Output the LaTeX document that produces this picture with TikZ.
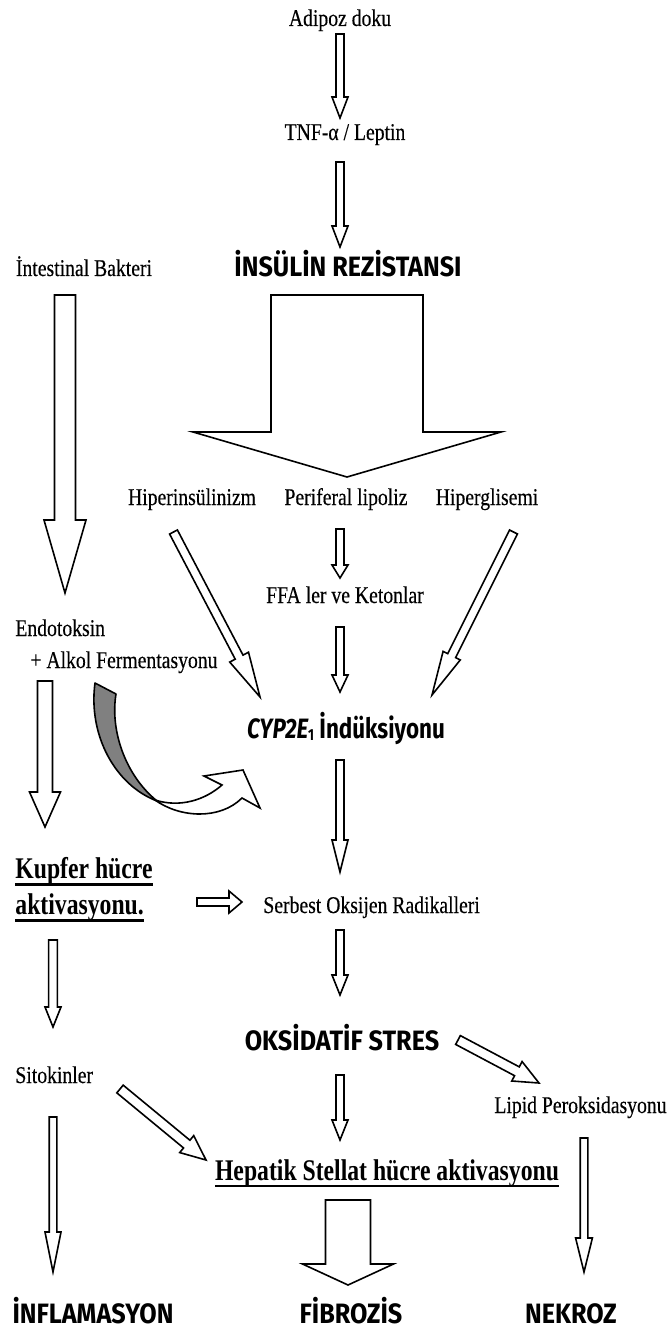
\documentclass[tikz,border=0pt]{standalone}
\usepackage{fontspec}
\usetikzlibrary{calc}
\newfontfamily\labelfont{Liberation Serif}[FakeStretch=0.82, FakeBold=0.3]
\newfontfamily\cellfont{Liberation Serif}[FakeStretch=0.79]
\newfontfamily\headfont{Fira Sans}[FakeStretch=0.9]
\newfontfamily\cypfont{Fira Sans}[FakeStretch=0.8]
\definecolor{ribbongray}{HTML}{808080}

% thick underline for the cell labels
\newcommand{\thickul}[1]{\setbox0\hbox{#1}\rlap{\copy0}\rule[-3.6pt]{\wd0}{1.2pt}}

% hollow block arrow: tail, tip, shaft half width, head half width, head length
\newcommand{\hollowarrow}[5]{%
  \coordinate (hb) at ($(#2)!#5!(#1)$);
  \draw[blockarrow] ($(#1)!#3!90:(#2)$) -- ($(hb)!#3!-90:(#1)$) -- ($(hb)!#4!-90:(#1)$) -- (#2)
    -- ($(hb)!#4!90:(#1)$) -- ($(hb)!#3!90:(#1)$) -- ($(#1)!#3!-90:(#2)$) -- cycle;}

\tikzset{
  blockarrow/.style={draw=black, fill=white, line width=0.8pt, line join=miter},
  txt/.style={inner sep=0pt, font=\labelfont\fontsize{12}{14}\selectfont},
  hdtxt/.style={inner sep=0pt, font=\headfont\bfseries\fontsize{14}{16}\selectfont},
  celltxt/.style={inner sep=0pt, align=left, font=\cellfont\bfseries\fontsize{15}{18}\selectfont}
}

\begin{document}
\begin{tikzpicture}[x=0.5pt, y=-0.5pt]
\useasboundingbox (0,0) rectangle (669,1332);

% labels
\node[txt, anchor=base] (adipoz) at (340,26) {Adipoz doku};
\node[txt, anchor=base] (tnf) at (345,140) {TNF-α / Leptin};
\node[hdtxt, anchor=base] (insulin) at (348,277) {İNSÜLİN REZİSTANSI};
\node[txt, anchor=base] (bakteri) at (84,276) {İntestinal Bakteri};
\node[txt, anchor=base] (hiperins) at (192,505) {Hiperinsülinizm};
\node[txt, anchor=base] (lipoliz) at (346,505) {Periferal lipoliz};
\node[txt, anchor=base] (hipergli) at (487,505) {Hiperglisemi};
\node[txt, anchor=base] (ffa) at (345,603) {FFA ler ve Ketonlar};
\node[txt, anchor=base west] (endotoksin) at (15,636) {Endotoksin};
\node[txt, anchor=base west] (alkol) at (30,668) {+ Alkol Fermentasyonu};
\node[hdtxt, font=\cypfont\bfseries\fontsize{14}{16}\selectfont, anchor=base] (cyp) at (346,738)
  {{\itshape CYP2E}\raisebox{-1pt}{\fontsize{8}{8}\selectfont 1} İndüksiyonu};
\node[celltxt, anchor=north west] (kupfer) at (15,857) {\thickul{Kupfer hücre}\\\thickul{aktivasyonu.}};
\node[txt, anchor=base west] (serbest) at (263,913) {Serbest Oksijen Radikalleri};
\node[hdtxt, anchor=base] (oksidatif) at (342,1050) {OKSİDATİF STRES};
\node[txt, anchor=base west] (sitokin) at (15,1083) {Sitokinler};
\node[txt, anchor=base west] (lipid) at (494,1113) {Lipid Peroksidasyonu};
\node[celltxt, anchor=base] (hepatik) at (387,1180) {\thickul{Hepatik Stellat hücre aktivasyonu}};
\node[hdtxt, anchor=base] (inflam) at (93,1323) {İNFLAMASYON};
\node[hdtxt, anchor=base] (fibroz) at (351,1323) {FİBROZİS};
\node[hdtxt, anchor=base] (nekroz) at (571,1323) {NEKROZ};

% arrow ends
\coordinate (a1t) at (340,34);    \coordinate (a1h) at (340,118);
\coordinate (a2t) at (340,162);   \coordinate (a2h) at (340,247);
\coordinate (a3t) at (347,295);   \coordinate (a3h) at (347,477);
\coordinate (a4t) at (65,295);    \coordinate (a4h) at (65,593);
\coordinate (a5t) at (173.5,532); \coordinate (a5h) at (260,697);
\coordinate (a6t) at (340,529);   \coordinate (a6h) at (340,578);
\coordinate (a7t) at (513.5,532); \coordinate (a7h) at (432,695);
\coordinate (a8t) at (340,627);   \coordinate (a8h) at (340,692);
\coordinate (a9t) at (45,681);    \coordinate (a9h) at (45,827);
\coordinate (a10t) at (340,760);  \coordinate (a10h) at (340,872);
\coordinate (a11t) at (197,902);  \coordinate (a11h) at (242,902);
\coordinate (a12t) at (340,930);  \coordinate (a12h) at (340,995);
\coordinate (a13t) at (53,940);   \coordinate (a13h) at (53,1027);
\coordinate (a14t) at (458,1040); \coordinate (a14h) at (539,1083);
\coordinate (a15t) at (340,1075); \coordinate (a15h) at (340,1140);
\coordinate (a16t) at (120,1089); \coordinate (a16h) at (206,1160);
\coordinate (a17t) at (53,1117);  \coordinate (a17h) at (53,1272);
\coordinate (a18t) at (584,1138); \coordinate (a18h) at (584,1272);
\coordinate (a19t) at (348,1200); \coordinate (a19h) at (348,1285);

\hollowarrow{a1t}{a1h}{2pt}{4pt}{10.5pt}
\hollowarrow{a2t}{a2h}{2pt}{4pt}{10.5pt}
\hollowarrow{a3t}{a3h}{38pt}{77pt}{22.5pt}
\hollowarrow{a4t}{a4h}{5.25pt}{10.5pt}{36.5pt}
\hollowarrow{a5t}{a5h}{2.2pt}{5.3pt}{22.5pt}
\hollowarrow{a6t}{a6h}{2pt}{4pt}{6.5pt}
\hollowarrow{a7t}{a7h}{2.2pt}{4.8pt}{22pt}
\hollowarrow{a8t}{a8h}{2pt}{4pt}{8.5pt}
\hollowarrow{a9t}{a9h}{3.75pt}{7.75pt}{17.5pt}
\hollowarrow{a10t}{a10h}{2pt}{4pt}{16pt}
\hollowarrow{a11t}{a11h}{2pt}{5.5pt}{6.5pt}
\hollowarrow{a12t}{a12h}{2pt}{4pt}{10pt}
\hollowarrow{a13t}{a13h}{2.2pt}{4pt}{10pt}
\hollowarrow{a14t}{a14h}{2.5pt}{5.5pt}{12.5pt}
\hollowarrow{a15t}{a15h}{2pt}{4pt}{10pt}
\hollowarrow{a16t}{a16h}{2.5pt}{5.5pt}{12.5pt}
\hollowarrow{a17t}{a17h}{1.9pt}{4pt}{20pt}
\hollowarrow{a18t}{a18h}{1.9pt}{4.2pt}{17pt}
\hollowarrow{a19t}{a19h}{11.25pt}{22.75pt}{10.5pt}

% curved arrow from alkol to cyp
\draw[fill=ribbongray, line width=0.8pt, line join=round] (95,683) -- (116,694)
  .. controls (110,730) and (125,775) .. (157,801)
  .. controls (115,785) and (88,735) .. cycle;
\draw[blockarrow] (155,800) .. controls (180,818) and (220,820) .. (242,798)
  -- (260,808) -- (243,770) -- (204,776) -- (222,785)
  .. controls (205,800) and (180,808) .. (155,800) -- cycle;
\end{tikzpicture}
\end{document}
